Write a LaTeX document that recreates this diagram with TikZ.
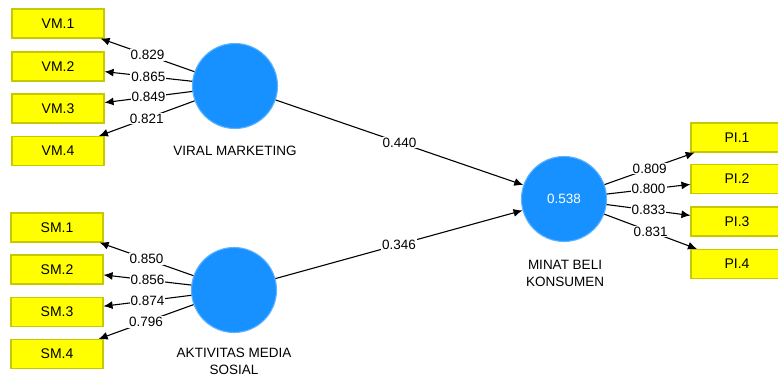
\documentclass[tikz,border=0pt]{standalone}
\usepackage{fontspec}
\setmainfont{Liberation Sans}
\usepackage{tikz}
\usetikzlibrary{arrows.meta}
\definecolor{lvblue}{RGB}{22,145,255}
\definecolor{mvyellow}{RGB}{255,255,0}
\definecolor{mvedge}{RGB}{200,200,0}

\begin{document}
\begin{tikzpicture}[x=1pt, y=-1pt, >={Latex[length=9pt,width=8pt]},
		font=\fontsize{13.5}{17}\selectfont,
		indicator/.style={draw=mvedge, fill=mvyellow, minimum width=92pt, minimum height=29pt, inner sep=0pt, font=\fontsize{14}{16}\selectfont},
		latent/.style={circle, draw=lvblue!70!white, fill=lvblue, minimum size=85pt, inner sep=0pt, text=white},
		weight/.style={fill=white, inner sep=1pt, midway},
		every path/.style={line width=1.1pt}]
			\useasboundingbox (0, 0) rectangle (778, 378);
			%%
			\node[latent] (vm) at (235, 86) {};
			\node[latent] (sm) at (234, 290) {};
			\node[latent] (mbk) at (564, 199) {0.538};
			\node (vmlab) at (235, 151) {VIRAL MARKETING};
			\node[align=center] (smlab) at (234, 361) {AKTIVITAS MEDIA\\SOSIAL};
			\node[align=center] (mbklab) at (565, 273) {MINAT BELI\\KONSUMEN};
			%%
			\node[indicator] (vm1) at (58, 23.5) {VM.1};
			\node[indicator] (vm2) at (58, 66.5) {VM.2};
			\node[indicator] (vm3) at (58, 108.5) {VM.3};
			\node[indicator] (vm4) at (58, 151) {VM.4};
			%%
			\node[indicator] (sm1) at (57, 227.5) {SM.1};
			\node[indicator] (sm2) at (57, 269.5) {SM.2};
			\node[indicator] (sm3) at (57, 312) {SM.3};
			\node[indicator] (sm4) at (57, 354) {SM.4};
			%%
			\node[indicator] (pi1) at (737, 137.5) {PI.1};
			\node[indicator] (pi2) at (737, 179) {PI.2};
			\node[indicator] (pi3) at (737, 221.5) {PI.3};
			\node[indicator] (pi4) at (737, 264) {PI.4};
			%%
			\draw[->] (vm) -- (vm1) node[weight]{0.829};
			\draw[->] (vm) -- (vm2) node[weight]{0.865};
			\draw[->] (vm) -- (vm3) node[weight]{0.849};
			\draw[->] (vm) -- (vm4) node[weight]{0.821};
			%%
			\draw[->] (sm) -- (sm1) node[weight]{0.850};
			\draw[->] (sm) -- (sm2) node[weight]{0.856};
			\draw[->] (sm) -- (sm3) node[weight]{0.874};
			\draw[->] (sm) -- (sm4) node[weight]{0.796};
			%%
			\draw[->] (mbk) -- (pi1) node[weight]{0.809};
			\draw[->] (mbk) -- (pi2) node[weight]{0.800};
			\draw[->] (mbk) -- (pi3) node[weight]{0.833};
			\draw[->] (mbk) -- (pi4) node[weight]{0.831};
			%%
			\draw[->] (vm) -- (mbk) node[weight]{0.440};
			\draw[->] (sm) -- (mbk) node[weight]{0.346};
		\end{tikzpicture}
\end{document}
